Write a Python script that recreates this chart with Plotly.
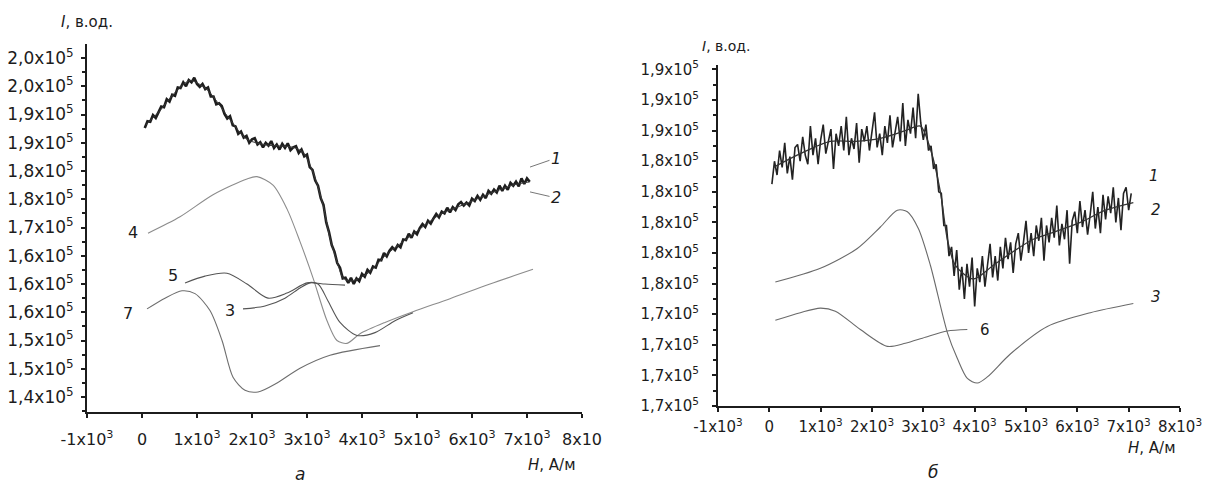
import plotly.graph_objects as go

W, H = 1207, 487

# ---------------- Panel (a) data (I in units of 10^5, H in A/m) ----------------
a_h_noisy = [50, 100, 150, 200, 250, 300, 350, 400, 450, 500,
             550, 600, 650, 700, 750, 800, 850, 900, 950, 1000,
             1050, 1100, 1150, 1200, 1250, 1300, 1350, 1400, 1450, 1500,
             1550, 1600, 1650, 1700, 1750, 1800, 1850, 1900, 1950, 2000,
             2050, 2100, 2150, 2200, 2250, 2300, 2350, 2400, 2450, 2500,
             2550, 2600, 2650, 2700, 2750, 2800, 2850, 2900, 2950, 3000,
             3050, 3100, 3150, 3200, 3250, 3300, 3350, 3400, 3450, 3500,
             3550, 3600, 3650, 3700, 3750, 3800, 3850, 3900, 3950, 4000,
             4050, 4100, 4150, 4200, 4250, 4300, 4350, 4400, 4450, 4500,
             4550, 4600, 4650, 4700, 4750, 4800, 4850, 4900, 4950, 5000,
             5050, 5100, 5150, 5200, 5250, 5300, 5350, 5400, 5450, 5500,
             5550, 5600, 5650, 5700, 5750, 5800, 5850, 5900, 5950, 6000,
             6050, 6100, 6150, 6200, 6250, 6300, 6350, 6400, 6450, 6500,
             6550, 6600, 6650, 6700, 6750, 6800, 6850, 6900, 6950, 7000,
             7050]
a_i1 = [1.876, 1.888, 1.887, 1.899, 1.894, 1.905, 1.914, 1.913, 1.927, 1.923,
        1.935, 1.933, 1.948, 1.947, 1.957, 1.950, 1.961, 1.957, 1.965, 1.954,
        1.949, 1.954, 1.945, 1.948, 1.932, 1.932, 1.918, 1.920, 1.915, 1.901,
        1.893, 1.897, 1.881, 1.879, 1.866, 1.870, 1.859, 1.862, 1.850, 1.856,
        1.858, 1.847, 1.851, 1.842, 1.850, 1.845, 1.853, 1.841, 1.847, 1.838,
        1.848, 1.841, 1.849, 1.837, 1.842, 1.844, 1.832, 1.838, 1.826, 1.829,
        1.807, 1.802, 1.783, 1.774, 1.752, 1.740, 1.709, 1.692, 1.669, 1.657,
        1.637, 1.629, 1.610, 1.611, 1.602, 1.611, 1.600, 1.610, 1.605, 1.618,
        1.613, 1.625, 1.620, 1.631, 1.629, 1.643, 1.642, 1.655, 1.649, 1.659,
        1.665, 1.660, 1.669, 1.665, 1.679, 1.678, 1.689, 1.682, 1.693, 1.688,
        1.699, 1.706, 1.701, 1.712, 1.707, 1.716, 1.724, 1.718, 1.728, 1.725,
        1.735, 1.727, 1.736, 1.731, 1.741, 1.745, 1.739, 1.744, 1.739, 1.751,
        1.747, 1.756, 1.749, 1.758, 1.752, 1.765, 1.760, 1.767, 1.762, 1.774,
        1.765, 1.774, 1.767, 1.779, 1.774, 1.781, 1.773, 1.787, 1.777, 1.787,
        1.781]

a_h2 = [73, 327, 600, 873, 1182, 1600, 1909, 2273, 2745, 2927, 3109, 3291, 3418, 3545, 3655,
        3782, 4091, 4455, 4927, 5418, 5836, 6273, 6745, 7055]
a_i2 = [1.882, 1.907, 1.939, 1.960, 1.944, 1.891, 1.856, 1.846, 1.842, 1.833, 1.798, 1.740, 1.681,
        1.640, 1.611, 1.605, 1.618, 1.653, 1.688, 1.723, 1.740, 1.758, 1.775, 1.781]

a_h4 = [109, 691, 1291, 1909, 2091, 2382, 2636, 2873, 3109, 3364, 3545, 3727, 3964, 4418, 4927,
        5600, 6327, 7109]
a_i4 = [1.690, 1.719, 1.758, 1.786, 1.790, 1.775, 1.733, 1.675, 1.611, 1.535, 1.500, 1.495, 1.512,
        1.532, 1.551, 1.574, 1.600, 1.626]

a_h5 = [782, 1145, 1545, 1909, 2291, 2636, 3000, 3200, 3382, 3600, 3909, 4236, 4600, 4927]
a_i5 = [1.602, 1.614, 1.619, 1.600, 1.575, 1.584, 1.602, 1.600, 1.570, 1.532, 1.509, 1.514, 1.535,
        1.549]

a_h3 = [1836, 2236, 2600, 2873, 3055, 3327, 3691]
a_i3 = [1.556, 1.561, 1.575, 1.593, 1.602, 1.600, 1.598]

a_h7 = [91, 418, 727, 964, 1236, 1455, 1655, 1873, 2109, 2455, 2873, 3418, 4327]
a_i7 = [1.556, 1.575, 1.588, 1.583, 1.553, 1.500, 1.435, 1.412, 1.409, 1.425, 1.451, 1.474, 1.491]

# ---------------- Panel (б) data ----------------
b_h_noisy = a_h_noisy
b_i1 = [1.825, 1.840, 1.831, 1.847, 1.836, 1.852, 1.832, 1.843, 1.828, 1.849,
        1.851, 1.840, 1.856, 1.844, 1.838, 1.863, 1.844, 1.855, 1.838, 1.854,
        1.864, 1.845, 1.853, 1.861, 1.835, 1.858, 1.850, 1.863, 1.847, 1.869,
        1.844, 1.855, 1.848, 1.865, 1.839, 1.861, 1.853, 1.863, 1.847, 1.858,
        1.872, 1.849, 1.858, 1.844, 1.863, 1.852, 1.870, 1.849, 1.858, 1.869,
        1.853, 1.878, 1.850, 1.867, 1.858, 1.875, 1.855, 1.884, 1.865, 1.854,
        1.864, 1.847, 1.850, 1.835, 1.838, 1.820, 1.819, 1.798, 1.798, 1.778,
        1.784, 1.765, 1.782, 1.756, 1.771, 1.750, 1.773, 1.758, 1.777, 1.745,
        1.770, 1.761, 1.778, 1.758, 1.772, 1.786, 1.764, 1.778, 1.762, 1.784,
        1.770, 1.790, 1.776, 1.787, 1.767, 1.786, 1.793, 1.775, 1.787, 1.801,
        1.780, 1.793, 1.778, 1.798, 1.788, 1.803, 1.775, 1.798, 1.787, 1.803,
        1.790, 1.811, 1.785, 1.799, 1.789, 1.808, 1.773, 1.801, 1.807, 1.793,
        1.814, 1.797, 1.808, 1.792, 1.805, 1.820, 1.796, 1.810, 1.793, 1.818,
        1.802, 1.817, 1.806, 1.823, 1.800, 1.816, 1.795, 1.819, 1.823, 1.808,
        1.819]

b_h2 = [78, 604, 1188, 1675, 2163, 2650, 2942, 3137, 3332, 3468, 3624, 3974, 4364, 4753, 5143,
        5572, 6059, 6546, 7091]
b_i2 = [1.836, 1.845, 1.853, 1.853, 1.855, 1.860, 1.863, 1.848, 1.820, 1.789, 1.772, 1.763, 1.772,
        1.781, 1.789, 1.794, 1.800, 1.808, 1.813]

b_h3 = [117, 994, 1714, 2163, 2494, 2689, 2903, 3137, 3468, 3663, 3857, 4052, 4247, 4695, 5416,
        6254, 7091]
b_i3 = [1.761, 1.770, 1.783, 1.797, 1.808, 1.807, 1.796, 1.772, 1.728, 1.711, 1.698, 1.695, 1.699,
        1.714, 1.732, 1.741, 1.747]

b_h6 = [117, 604, 994, 1286, 1773, 2299, 2650, 3039, 3468, 3857]
b_i6 = [1.736, 1.741, 1.744, 1.742, 1.730, 1.719, 1.721, 1.725, 1.729, 1.730]

# ---------------- Tick labels ----------------
x_tickvals = [-1000, 0, 1000, 2000, 3000, 4000, 5000, 6000, 7000, 8000]
a_xticktext = ["-1x10<sup>3</sup>", "0", "1x10<sup>3</sup>", "2x10<sup>3</sup>", "3x10<sup>3</sup>",
               "4x10<sup>3</sup>", "5x10<sup>3</sup>", "6x10<sup>3</sup>", "7x10<sup>3</sup>", "8x10"]
b_xticktext = ["-1x10<sup>3</sup>", "0", "1x10<sup>3</sup>", "2x10<sup>3</sup>", "3x10<sup>3</sup>",
               "4x10<sup>3</sup>", "5x10<sup>3</sup>", "6x10<sup>3</sup>", "7x10<sup>3</sup>",
               "8x10<sup>3</sup>"]
a_ytickvals = [1.40, 1.45, 1.50, 1.55, 1.60, 1.65, 1.70, 1.75, 1.80, 1.85, 1.90, 1.95, 2.00]
a_ymant = ["1,4", "1,5", "1,5", "1,6", "1,6", "1,6", "1,7", "1,8", "1,8", "1,9", "1,9", "2,0", "2,0"]
b_ytickvals = [1.68, 1.70, 1.72, 1.74, 1.76, 1.78, 1.80, 1.82, 1.84, 1.86, 1.88, 1.90]
b_ymant = ["1,7", "1,7", "1,7", "1,7", "1,8", "1,8", "1,8", "1,8", "1,8", "1,9", "1,9", "1,9"]
a_yticktext = [m + "x10<sup>5</sup>" for m in a_ymant]
b_yticktext = [m + "x10<sup>5</sup>" for m in b_ymant]
a_yminor = [1.375, 1.425, 1.475, 1.525, 1.575, 1.625, 1.675, 1.725, 1.775, 1.825, 1.875, 1.925,
            1.975, 2.025]
b_yminor = [1.69, 1.71, 1.73, 1.75, 1.77, 1.79, 1.81, 1.83, 1.85, 1.87, 1.89]

FONT = "DejaVu Sans"
INK = "#1c1c1c"

fig = go.Figure()


def line(x, y, xa, ya, color, width, smooth=True):
    fig.add_trace(go.Scatter(x=x, y=y, xaxis=xa, yaxis=ya, mode="lines",
                             line=dict(color=color, width=width,
                                       shape="spline" if smooth else "linear",
                                       smoothing=0.8),
                             showlegend=False, hoverinfo="skip"))


# panel a
line(a_h4, a_i4, "x", "y", "#8c8c8c", 1.1)
line(a_h7, a_i7, "x", "y", "#6e6e6e", 1.1)
line(a_h5, a_i5, "x", "y", "#555555", 1.1)
line(a_h3, a_i3, "x", "y", "#555555", 1.1)
line(a_h_noisy, a_i1, "x", "y", "#1e1e1e", 2.6, smooth=False)
line(a_h2, a_i2, "x", "y", "#3a3a3a", 1.0)

# panel b
line(b_h3, b_i3, "x2", "y2", "#6a6a6a", 1.1)
line(b_h6, b_i6, "x2", "y2", "#6a6a6a", 1.1)
line(b_h_noisy, b_i1, "x2", "y2", "#222222", 1.6, smooth=False)
line(b_h2, b_i2, "x2", "y2", "#333333", 1.3)


def px(x):
    return x / W


def py(y):
    return 1 - y / H


axis_common = dict(showline=True, linecolor=INK, linewidth=2, ticks="outside", ticklen=4,
                   tickwidth=1.5, tickcolor=INK, showgrid=False, zeroline=False,
                   automargin=False,
                   tickfont=dict(family=FONT, size=16, color=INK), tickmode="array")

fig.update_layout(
    width=W, height=H, margin=dict(l=0, r=0, t=0, b=0, autoexpand=False),
    paper_bgcolor="white", plot_bgcolor="white",
    xaxis=dict(axis_common, domain=[px(87), px(582)], range=[-1000, 8000],
               tickvals=x_tickvals, ticktext=a_xticktext, anchor="y", ticklabelstandoff=8),
    yaxis=dict(axis_common, domain=[py(412), py(44)], range=[1.3735, 2.0248],
               tickvals=a_ytickvals, ticktext=a_yticktext, anchor="x",
               tickfont=dict(family=FONT, size=17, color=INK), ticklabelstandoff=4,
               minor=dict(tickvals=a_yminor, ticks="outside", ticklen=3, tickcolor=INK,
                          tickwidth=1.5)),
    xaxis2=dict(axis_common, domain=[px(718), px(1180)], range=[-1000, 8000],
                tickvals=x_tickvals, ticktext=b_xticktext, anchor="y2", ticklabelstandoff=2,
                tickfont=dict(family=FONT, size=15, color=INK)),
    yaxis2=dict(axis_common, domain=[py(406), py(65)], range=[1.68, 1.9029],
                tickvals=b_ytickvals, ticktext=b_yticktext, anchor="x2",
                tickfont=dict(family=FONT, size=15, color=INK), ticklabelstandoff=10,
                minor=dict(tickvals=b_yminor, ticks="outside", ticklen=3, tickcolor=INK,
                           tickwidth=1.5)),
)


def txt(x, y, s, size=15):
    fig.add_annotation(xref="paper", yref="paper", x=px(x), y=py(y), text=s,
                       showarrow=False, xanchor="center", yanchor="middle",
                       font=dict(family=FONT, size=size, color=INK))


# axis titles
txt(87, 22, "<i>I</i>, в.од.", 15)
txt(726, 46, "<i>I</i>, в.од.", 14)
txt(551, 465, "<i>H</i>, А/м", 15)
txt(1151, 448, "<i>H</i>, А/м", 15)
txt(300, 474, "<i>а</i>", 17)
txt(933, 472, "<i>б</i>", 17)

# curve labels panel a
txt(133, 233, "4", 16)
txt(173, 275, "5", 16)
txt(128, 313, "7", 16)
txt(230, 310, "3", 16)
for lab, tip_y, ay in (("<i>1</i>", 1.807, -9), ("<i>2</i>", 1.763, 6)):
    fig.add_annotation(xref="x", yref="y", x=7055, y=tip_y, ax=26, ay=ay, text=lab,
                       showarrow=True, arrowhead=0, arrowwidth=1, arrowcolor="#777777",
                       font=dict(family=FONT, size=16, color=INK))

# curve labels panel b
txt(1154, 176, "<i>1</i>", 15)
txt(1156, 210, "<i>2</i>", 15)
txt(1156, 297, "<i>3</i>", 15)
txt(985, 330, "6", 15)

fig.write_html("out.html")
